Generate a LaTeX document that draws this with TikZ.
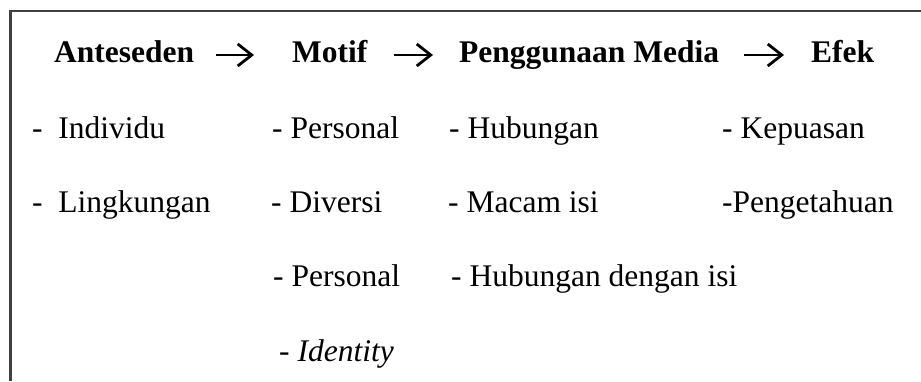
\documentclass[tikz,border=0pt]{standalone}
\usepackage{fontspec}
\setmainfont{Liberation Serif}
\usetikzlibrary{arrows.meta,positioning}

\begin{document}
\begin{tikzpicture}[x=1pt,y=-1pt,
	head/.style={anchor=base west,inner sep=0pt,font=\fontsize{31.5}{38}\selectfont\bfseries},
	item/.style={anchor=base west,inner sep=0pt,font=\fontsize{31.5}{38}\selectfont},
	flow/.style={line width=2.8pt,-{Straight Barb[length=14pt,width=22pt]}}]
	\useasboundingbox (0,0) rectangle (921,381);
	
	% frame, open at right and bottom
	\draw[line width=2.4pt,black!75] (921,11) -- (10.5,11) -- (10.5,381);
	
	% heading row
	\node[head] (ant) at (54,62) {Anteseden};
	\node[head] (mot) at (292,62) {Motif};
	\node[head] (med) at (459,62) {Penggunaan Media};
	\node[head] (efk) at (811,62) {Efek};
	
	% arrows between headings
	\draw[flow,shorten <=22pt,shorten >=38pt] ([yshift=7pt]ant.base east) -- ([yshift=7pt]mot.base west);
	\draw[flow,shorten <=26pt,shorten >=26pt] ([yshift=7pt]mot.base east) -- ([yshift=7pt]med.base west);
	\draw[flow,shorten <=25pt,shorten >=27pt] ([yshift=7pt]med.base east) -- ([yshift=7pt]efk.base west);
	
	% first row
	\node[item] (ind) at (32,138) {-\ \ Individu};
	\node[item] (per1) at (272,138) {- Personal};
	\node[item] (hub1) at (449,138) {- Hubungan};
	\node[item] (kep) at (722,138) {- Kepuasan};
	
	% second row
	\node[item] (lin) at (32,212) {-\ \ Lingkungan};
	\node[item] (div) at (271,212) {- Diversi};
	\node[item] (mac) at (448,212) {- Macam isi};
	\node[item] (pen) at (722,212) {-Pengetahuan};
	
	% third row
	\node[item] (per2) at (273,286) {- Personal};
	\node[item] (hub2) at (451,286) {- Hubungan dengan isi};
	
	% fourth row
	\node[item] (idt) at (279,361) {- \textit{Identity}};
\end{tikzpicture}
\end{document}
